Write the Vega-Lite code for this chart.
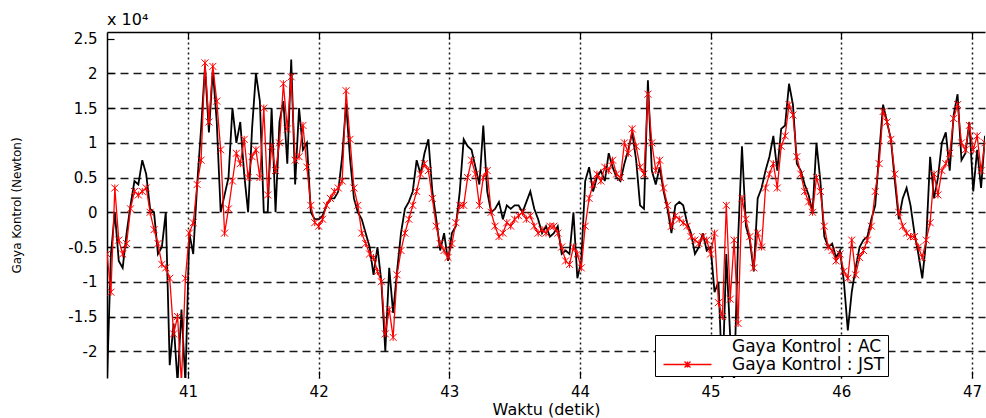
{
  "$schema": "https://vega.github.io/schema/vega-lite/v6.json",
  "width": 878,
  "height": 346,
  "autosize": {"type": "none"},
  "padding": {"left": 107, "top": 32, "right": 1, "bottom": 40},
  "background": "white",
  "title": {"text": "x  10⁴", "anchor": "start", "frame": "group", "offset": 3, "fontSize": 16, "fontWeight": "normal", "font": "DejaVu Sans", "color": "black"},
  "config": {
    "view": {"stroke": null},
    "font": "DejaVu Sans",
    "axis": {"labelFont": "DejaVu Sans", "titleFont": "DejaVu Sans", "labelColor": "black", "titleColor": "black", "tickColor": "black", "domainColor": "black", "gridColor": "black", "titleFontWeight": "normal", "labelFontSize": 15}
  },
  "data": {"values": [
    {"t":40.38,"AC":-2.45,"JST":-0.6},{"t":40.41,"AC":-0.6,"JST":-1.15},{"t":40.44,"AC":0.0,"JST":0.35},{"t":40.47,"AC":-0.7,"JST":-0.4},
    {"t":40.50,"AC":-0.8,"JST":-0.6},{"t":40.53,"AC":-0.3,"JST":-0.45},{"t":40.56,"AC":0.1,"JST":0.05},{"t":40.59,"AC":0.45,"JST":0.3},
    {"t":40.62,"AC":0.4,"JST":0.25},{"t":40.65,"AC":0.75,"JST":0.3},{"t":40.68,"AC":0.55,"JST":0.35},{"t":40.71,"AC":0.05,"JST":0.0},
    {"t":40.74,"AC":0.0,"JST":-0.25},{"t":40.77,"AC":-0.6,"JST":-0.45},{"t":40.80,"AC":-0.5,"JST":-0.75},{"t":40.83,"AC":0.0,"JST":-0.8},
    {"t":40.86,"AC":-2.2,"JST":-0.95},{"t":40.89,"AC":-1.6,"JST":-1.75},{"t":40.92,"AC":-2.45,"JST":-1.5},{"t":40.95,"AC":-1.4,"JST":-2.45},
    {"t":40.98,"AC":-2.45,"JST":-0.95},{"t":41.01,"AC":-0.3,"JST":-0.3},{"t":41.04,"AC":-0.6,"JST":-0.15},{"t":41.07,"AC":0.4,"JST":0.4},
    {"t":41.10,"AC":1.2,"JST":0.75},{"t":41.13,"AC":2.1,"JST":2.15},{"t":41.16,"AC":1.15,"JST":1.3},{"t":41.19,"AC":2.05,"JST":2.1},
    {"t":41.22,"AC":1.3,"JST":1.6},{"t":41.25,"AC":0.0,"JST":0.9},{"t":41.28,"AC":0.25,"JST":-0.3},{"t":41.31,"AC":0.5,"JST":0.05},
    {"t":41.34,"AC":1.5,"JST":0.45},{"t":41.37,"AC":1.0,"JST":0.85},{"t":41.40,"AC":1.3,"JST":0.7},{"t":41.43,"AC":0.55,"JST":1.05},
    {"t":41.46,"AC":0.0,"JST":0.5},{"t":41.49,"AC":1.2,"JST":0.8},{"t":41.52,"AC":2.0,"JST":0.9},{"t":41.55,"AC":1.6,"JST":0.5},
    {"t":41.58,"AC":0.0,"JST":1.5},{"t":41.61,"AC":0.0,"JST":0.25},{"t":41.64,"AC":1.5,"JST":0.95},{"t":41.67,"AC":0.0,"JST":0.6},
    {"t":41.70,"AC":1.3,"JST":1.0},{"t":41.73,"AC":1.6,"JST":1.85},{"t":41.76,"AC":0.7,"JST":1.2},{"t":41.79,"AC":2.2,"JST":1.95},
    {"t":41.82,"AC":0.4,"JST":0.75},{"t":41.85,"AC":1.5,"JST":0.8},{"t":41.88,"AC":0.9,"JST":1.25},{"t":41.91,"AC":1.0,"JST":0.65},
    {"t":41.94,"AC":0.0,"JST":0.1},{"t":41.97,"AC":-0.1,"JST":-0.15},{"t":42.00,"AC":-0.1,"JST":-0.2},{"t":42.03,"AC":-0.05,"JST":-0.1},
    {"t":42.06,"AC":0.1,"JST":0.1},{"t":42.09,"AC":0.2,"JST":0.2},{"t":42.12,"AC":0.2,"JST":0.3},{"t":42.15,"AC":0.3,"JST":0.35},
    {"t":42.18,"AC":0.8,"JST":0.45},{"t":42.21,"AC":1.57,"JST":1.75},{"t":42.24,"AC":0.77,"JST":1.05},{"t":42.27,"AC":0.2,"JST":0.35},
    {"t":42.30,"AC":0.0,"JST":0.1},{"t":42.33,"AC":-0.1,"JST":-0.3},{"t":42.36,"AC":-0.3,"JST":-0.45},{"t":42.39,"AC":-0.5,"JST":-0.6},
    {"t":42.42,"AC":-0.9,"JST":-0.65},{"t":42.45,"AC":-0.5,"JST":-0.85},{"t":42.48,"AC":-1.0,"JST":-1.0},{"t":42.51,"AC":-2.0,"JST":-1.75},
    {"t":42.54,"AC":-0.8,"JST":-1.4},{"t":42.57,"AC":-1.45,"JST":-1.8},{"t":42.60,"AC":-0.85,"JST":-0.9},{"t":42.63,"AC":-0.3,"JST":-0.55},
    {"t":42.66,"AC":0.05,"JST":-0.3},{"t":42.69,"AC":0.15,"JST":-0.1},{"t":42.72,"AC":0.3,"JST":0.1},{"t":42.75,"AC":0.75,"JST":0.3},
    {"t":42.78,"AC":0.55,"JST":0.55},{"t":42.81,"AC":0.85,"JST":0.7},{"t":42.84,"AC":1.05,"JST":0.6},{"t":42.87,"AC":0.3,"JST":0.2},
    {"t":42.90,"AC":-0.1,"JST":-0.2},{"t":42.93,"AC":-0.55,"JST":-0.45},{"t":42.96,"AC":-0.3,"JST":-0.55},{"t":42.99,"AC":-0.7,"JST":-0.65},
    {"t":43.02,"AC":-0.3,"JST":-0.45},{"t":43.05,"AC":-0.2,"JST":-0.15},{"t":43.08,"AC":0.3,"JST":0.1},{"t":43.11,"AC":1.05,"JST":0.1},
    {"t":43.14,"AC":0.95,"JST":0.5},{"t":43.17,"AC":0.9,"JST":0.75},{"t":43.20,"AC":0.65,"JST":0.55},{"t":43.23,"AC":0.4,"JST":0.1},
    {"t":43.26,"AC":1.25,"JST":0.5},{"t":43.29,"AC":0.3,"JST":0.6},{"t":43.32,"AC":0.0,"JST":0.0},{"t":43.35,"AC":0.05,"JST":-0.2},
    {"t":43.38,"AC":0.15,"JST":-0.35},{"t":43.41,"AC":-0.1,"JST":-0.3},{"t":43.44,"AC":0.1,"JST":-0.15},{"t":43.47,"AC":0.05,"JST":-0.2},
    {"t":43.50,"AC":0.1,"JST":-0.1},{"t":43.53,"AC":0.1,"JST":-0.05},{"t":43.56,"AC":0.0,"JST":0.0},{"t":43.59,"AC":0.15,"JST":-0.1},
    {"t":43.62,"AC":0.3,"JST":-0.05},{"t":43.65,"AC":0.05,"JST":-0.2},{"t":43.68,"AC":-0.1,"JST":-0.3},{"t":43.71,"AC":-0.3,"JST":-0.25},
    {"t":43.74,"AC":-0.2,"JST":-0.3},{"t":43.77,"AC":-0.35,"JST":-0.2},{"t":43.80,"AC":-0.3,"JST":-0.2},{"t":43.83,"AC":-0.2,"JST":-0.3},
    {"t":43.86,"AC":-0.6,"JST":-0.5},{"t":43.89,"AC":-0.55,"JST":-0.7},{"t":43.92,"AC":-0.6,"JST":-0.75},{"t":43.95,"AC":0.0,"JST":-0.5},
    {"t":43.98,"AC":-0.95,"JST":-0.6},{"t":44.01,"AC":-0.7,"JST":-0.8},{"t":44.04,"AC":0.45,"JST":-0.2},{"t":44.07,"AC":0.65,"JST":0.2},
    {"t":44.10,"AC":0.3,"JST":0.4},{"t":44.13,"AC":0.5,"JST":0.55},{"t":44.16,"AC":0.6,"JST":0.45},{"t":44.19,"AC":0.45,"JST":0.65},
    {"t":44.22,"AC":0.85,"JST":0.6},{"t":44.25,"AC":0.65,"JST":0.75},{"t":44.28,"AC":0.5,"JST":0.55},{"t":44.31,"AC":0.45,"JST":0.5},
    {"t":44.34,"AC":0.7,"JST":1.0},{"t":44.37,"AC":0.9,"JST":0.85},{"t":44.40,"AC":1.15,"JST":1.2},{"t":44.43,"AC":0.75,"JST":0.95},
    {"t":44.46,"AC":0.1,"JST":0.65},{"t":44.49,"AC":0.05,"JST":0.55},{"t":44.52,"AC":1.9,"JST":1.7},{"t":44.55,"AC":0.6,"JST":1.0},
    {"t":44.58,"AC":0.4,"JST":0.6},{"t":44.61,"AC":0.65,"JST":0.75},{"t":44.64,"AC":0.3,"JST":0.35},{"t":44.67,"AC":0.05,"JST":0.1},
    {"t":44.70,"AC":-0.3,"JST":-0.2},{"t":44.73,"AC":0.1,"JST":-0.05},{"t":44.76,"AC":0.15,"JST":-0.1},{"t":44.79,"AC":0.1,"JST":-0.15},
    {"t":44.82,"AC":-0.15,"JST":-0.2},{"t":44.85,"AC":-0.3,"JST":-0.35},{"t":44.88,"AC":-0.6,"JST":-0.4},{"t":44.91,"AC":-0.5,"JST":-0.45},
    {"t":44.94,"AC":-0.3,"JST":-0.35},{"t":44.97,"AC":-0.55,"JST":-0.4},{"t":45.00,"AC":-0.5,"JST":-0.6},{"t":45.03,"AC":-1.15,"JST":-0.3},
    {"t":45.06,"AC":-1.0,"JST":-1.3},{"t":45.09,"AC":-2.45,"JST":-1.5},{"t":45.12,"AC":-0.6,"JST":0.1},{"t":45.15,"AC":-1.8,"JST":-1.25},
    {"t":45.18,"AC":-2.45,"JST":-0.4},{"t":45.21,"AC":-0.4,"JST":-1.6},{"t":45.24,"AC":0.95,"JST":0.2},{"t":45.27,"AC":-0.2,"JST":-0.1},
    {"t":45.30,"AC":-0.4,"JST":-0.35},{"t":45.33,"AC":-0.85,"JST":-0.8},{"t":45.36,"AC":0.2,"JST":-0.3},{"t":45.39,"AC":0.35,"JST":-0.5},
    {"t":45.42,"AC":0.6,"JST":0.35},{"t":45.45,"AC":0.8,"JST":0.55},{"t":45.48,"AC":1.1,"JST":0.7},{"t":45.51,"AC":0.6,"JST":0.35},
    {"t":45.54,"AC":1.2,"JST":0.95},{"t":45.57,"AC":1.25,"JST":1.1},{"t":45.60,"AC":1.85,"JST":1.55},{"t":45.63,"AC":1.55,"JST":1.4},
    {"t":45.66,"AC":0.7,"JST":0.8},{"t":45.69,"AC":0.6,"JST":0.55},{"t":45.72,"AC":0.4,"JST":0.3},{"t":45.75,"AC":0.25,"JST":0.15},
    {"t":45.78,"AC":0.0,"JST":0.0},{"t":45.81,"AC":1.0,"JST":0.5},{"t":45.84,"AC":0.45,"JST":0.3},{"t":45.87,"AC":-0.35,"JST":-0.2},
    {"t":45.90,"AC":-0.5,"JST":-0.5},{"t":45.93,"AC":-0.45,"JST":-0.55},{"t":45.96,"AC":-0.65,"JST":-0.7},{"t":45.99,"AC":-0.55,"JST":-0.6},
    {"t":46.02,"AC":-1.0,"JST":-0.85},{"t":46.05,"AC":-1.7,"JST":-0.95},{"t":46.08,"AC":-1.15,"JST":-0.4},{"t":46.11,"AC":-0.8,"JST":-0.9},
    {"t":46.14,"AC":-0.5,"JST":-0.65},{"t":46.17,"AC":-0.4,"JST":-0.55},{"t":46.20,"AC":-0.35,"JST":-0.4},{"t":46.23,"AC":-0.1,"JST":-0.2},
    {"t":46.26,"AC":0.1,"JST":0.3},{"t":46.29,"AC":0.85,"JST":0.7},{"t":46.32,"AC":1.55,"JST":1.45},{"t":46.35,"AC":1.3,"JST":1.3},
    {"t":46.38,"AC":1.05,"JST":1.05},{"t":46.41,"AC":0.45,"JST":0.55},{"t":46.44,"AC":-0.1,"JST":0.0},{"t":46.47,"AC":0.2,"JST":-0.2},
    {"t":46.50,"AC":0.35,"JST":-0.3},{"t":46.53,"AC":0.1,"JST":-0.35},{"t":46.56,"AC":-0.3,"JST":-0.35},{"t":46.59,"AC":-0.6,"JST":-0.5},
    {"t":46.62,"AC":-0.95,"JST":-0.65},{"t":46.65,"AC":-0.4,"JST":-0.4},{"t":46.68,"AC":0.8,"JST":-0.15},{"t":46.71,"AC":0.2,"JST":0.55},
    {"t":46.74,"AC":0.5,"JST":0.25},{"t":46.77,"AC":1.0,"JST":0.6},{"t":46.80,"AC":1.15,"JST":0.7},{"t":46.83,"AC":0.6,"JST":0.85},
    {"t":46.86,"AC":1.4,"JST":1.35},{"t":46.89,"AC":1.7,"JST":1.55},{"t":46.92,"AC":0.75,"JST":1.0},{"t":46.95,"AC":0.85,"JST":0.9},
    {"t":46.98,"AC":1.3,"JST":1.25},{"t":47.01,"AC":0.3,"JST":0.9},{"t":47.04,"AC":0.9,"JST":1.1},{"t":47.07,"AC":0.35,"JST":0.6},
    {"t":47.10,"AC":1.1,"JST":1.0}
  ]},
  "transform": [{"fold": ["AC", "JST"], "as": ["seri", "gaya"]}],
  "encoding": {
    "y": {
      "field": "gaya", "type": "quantitative",
      "scale": {"domain": [-2.385, 2.595], "nice": false, "zero": false},
      "axis": {
        "title": "Gaya Kontrol (Newton)", "titleFontSize": 12, "titlePadding": 44,
        "values": [-2, -1.5, -1, -0.5, 0, 0.5, 1, 1.5, 2, 2.5],
        "labelExpr": "'' + datum.value",
        "tickSize": -7, "tickWidth": 1.2, "labelPadding": 17, "domainWidth": 1.5,
        "grid": true, "gridDash": [8, 5], "gridWidth": 1.4,
        "gridOpacity": {"condition": {"test": "datum.value > 2.4", "value": 0}, "value": 0.9}
      }
    }
  },
  "layer": [
    {
      "mark": {"type": "line", "clip": true},
      "encoding": {
        "x": {
          "field": "t", "type": "quantitative",
          "scale": {"domain": [40.38, 47.10], "nice": false, "zero": false},
          "axis": {
            "orient": "bottom", "title": "Waktu (detik)", "titleFontSize": 16, "titlePadding": 2,
            "values": [41, 42, 43, 44, 45, 46, 47], "format": "d",
            "domain": false, "tickSize": -7, "tickWidth": 1.2, "labelPadding": 13,
            "grid": true, "gridDash": [2, 3], "gridWidth": 1.5, "gridOpacity": 0.9
          }
        },
        "color": {
          "field": "seri", "type": "nominal",
          "scale": {"domain": ["AC", "JST"], "range": ["black", "#ff0000"]},
          "legend": {
            "orient": "none", "legendX": 548, "legendY": 303, "title": null, "direction": "vertical",
            "strokeColor": "black", "fillColor": "white", "padding": 3, "rowPadding": 0,
            "symbolSize": 36, "symbolOffset": 21, "symbolStrokeWidth": 1.2,
            "labelFontSize": 17, "labelFont": "DejaVu Sans", "labelColor": "black", "labelOffset": 36, "labelAlign": "left", "labelLimit": 500,
            "labelExpr": "'Gaya Kontrol : ' + datum.label",
            "encode": {"symbols": {"update": {
              "shape": {"value": "M-8,0L8,0M-1,-1L1,1M-1,1L1,-1M0,-1L0,1"},
              "strokeOpacity": {"signal": "datum.value === 'JST' ? 1 : 0"}
            }}}
          }
        },
        "strokeWidth": {
          "field": "seri", "type": "nominal",
          "scale": {"domain": ["AC", "JST"], "range": [1.8, 1.3]},
          "legend": null
        }
      }
    },
    {
      "transform": [{"filter": "datum.seri === 'JST'"}],
      "mark": {"type": "point", "shape": "M-1,-1L1,1M-1,1L1,-1M0,-1L0,1", "filled": false, "color": "#ff0000", "size": 49, "strokeWidth": 1, "opacity": 1, "clip": true},
      "encoding": {
        "x": {
          "field": "t", "type": "quantitative",
          "scale": {"domain": [40.38, 47.10], "nice": false, "zero": false},
          "axis": {"orient": "top", "labels": false, "title": null, "values": [41, 42, 43, 44, 45, 46, 47], "tickSize": -7, "tickWidth": 1.2, "domainWidth": 1.5, "grid": false}
        }
      }
    }
  ],
  "resolve": {"axis": {"x": "independent"}}
}
